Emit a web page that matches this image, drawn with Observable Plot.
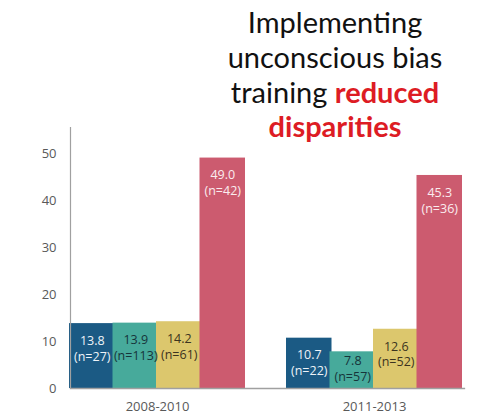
<!DOCTYPE html>
<html>
<head>
<meta charset="utf-8">
<script src="https://cdn.jsdelivr.net/npm/d3@7"></script>
<script src="https://cdn.jsdelivr.net/npm/@observablehq/plot@0.6"></script>
<style>
  html, body { margin: 0; padding: 0; background: #fff; }
  #wrap { position: relative; width: 486px; height: 415px; overflow: hidden; }
  #title {
    position: absolute; left: 200px; width: 270px; top: 5px;
    text-align: center; font-family: Lato, sans-serif; font-size: 29px;
    line-height: 34.8px; color: #111; z-index: 2;
  }
  #title b { color: #dd1c24; font-weight: 700; }
  #chart svg { display: block; }
</style>
</head>
<body>
<div id="wrap">
  <div id="title">Implementing<br>unconscious bias<br>training <b>reduced</b><br><b>disparities</b></div>
  <div id="chart"></div>
</div>
<script>
const periods = ["2008-2010", "2011-2013"];
const series = ["Series 1", "Series 2", "Series 3", "Series 4"];
const values2008 = [13.8, 13.9, 14.2, 49.0];
const counts2008 = [27, 113, 61, 42];
const values2011 = [10.7, 7.8, 12.6, 45.3];
const counts2011 = [22, 57, 52, 36];
const yTicks = [0, 10, 20, 30, 40, 50];
const barColors = ["#1b5a84", "#47aa9b", "#dcc76d", "#cc5b6f"];
const labelColors = ["#eef3f8", "#16343a", "#3b3320", "#fbecef"];

const data = [];
periods.forEach((p, pi) => {
  const vals = pi === 0 ? values2008 : values2011;
  const ns = pi === 0 ? counts2008 : counts2011;
  series.forEach((s, si) => {
    data.push({period: p, series: s, value: vals[si], n: ns[si], labelColor: labelColors[si]});
  });
});

const chart = Plot.plot({
  width: 486,
  height: 415,
  marginTop: 127,
  marginBottom: 27,
  marginLeft: 48,
  marginRight: 3,
  style: {fontFamily: "Open Sans, sans-serif", fontSize: "13px", color: "#595959", background: "transparent"},
  fx: {domain: periods, paddingInner: 0.198, paddingOuter: 0.101, label: null},
  x: {domain: series, padding: 0, paddingInner: 0, paddingOuter: 0, round: false, axis: null},
  y: {domain: [0, 55.5], label: null},
  color: {domain: series, range: barColors},
  marks: [
    Plot.barY(data, {fx: "period", x: "series", y: "value", fill: "series", insetLeft: -1, insetRight: -1}),
    Plot.text(data, {
      fx: "period", x: "series",
      y: d => Math.max(d.value, 9.5),
      text: d => d.value.toFixed(1) + "\n(n=" + d.n + ")",
      fill: "labelColor",
      lineAnchor: "top", dy: 10, lineHeight: 1.27,
      fontSize: 12.5
    }),
    Plot.frame({anchor: "left", facet: "super", stroke: "#a0a0a0", strokeWidth: 1.2}),
    Plot.frame({anchor: "bottom", facet: "super", stroke: "#a0a0a0", strokeWidth: 1.3, insetRight: -3}),
    Plot.axisY({ticks: yTicks, tickSize: 0, tickPadding: 0, dx: -14, label: null, fill: "#595959", fontSize: 13}),
    Plot.axisFx({anchor: "bottom", tickSize: 0, tickPadding: 0, dy: 13, label: null, fill: "#595959", fontSize: 13})
  ]
});
document.getElementById("chart").appendChild(chart);
</script>
</body>
</html>
